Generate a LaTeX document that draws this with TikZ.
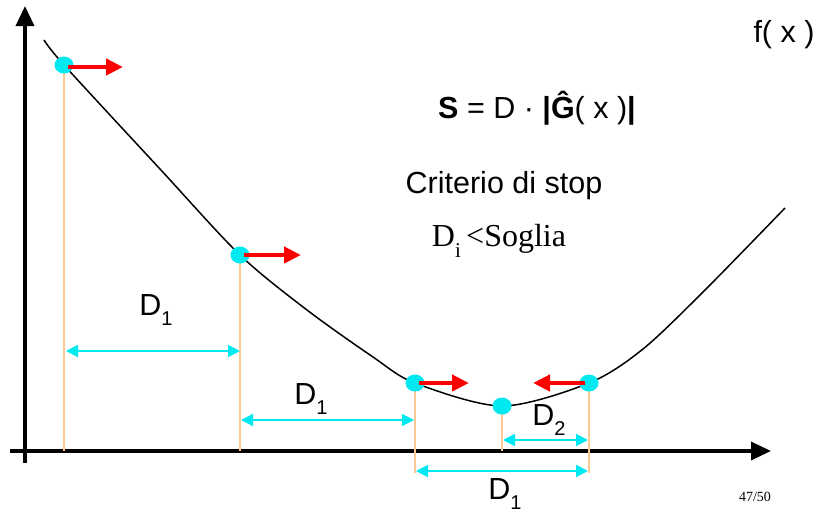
\documentclass[tikz,border=0pt]{standalone}
\usepackage{fontspec}
\setmainfont{Liberation Sans}
\newfontfamily\seriffont{Liberation Serif}
\usetikzlibrary{arrows.meta,shapes.geometric}
\definecolor{dotcyan}{RGB}{0,232,240}
\definecolor{guide}{RGB}{255,200,150}
\definecolor{arrred}{RGB}{255,0,0}
\newcommand{\bigtxt}{\fontsize{30.5}{36}\selectfont}
\newcommand{\Dsub}[1]{D\raisebox{-0.3em}{\fontsize{20}{20}\selectfont #1}}
\tikzset{
  axis/.style={line width=3.5pt,-{Triangle[length=20pt,width=18pt]}},
  curve/.style={line width=1.5pt},
  dot/.style={ellipse,fill=dotcyan,inner sep=0pt,minimum width=19pt,minimum height=17pt},
  guideline/.style={guide,line width=1.5pt},
  redarrow/.style={arrred,line width=4.5pt,-{Triangle[length=17pt,width=16pt]}},
  dimarrow/.style={dotcyan,line width=2pt,{Triangle[length=12pt,width=12pt]}-{Triangle[length=12pt,width=12pt]}},
  lbl/.style={inner sep=0pt,font=\bigtxt}
}
\begin{document}
\begin{tikzpicture}[x=1pt,y=-1pt]
\useasboundingbox (0,0) rectangle (823,512);
% axes
\coordinate (ybot) at (25,463);
\coordinate (ytop) at (25,6);
\coordinate (xl) at (10,451);
\coordinate (xr) at (771,451);
\draw[axis] (ybot) -- (ytop);
\draw[axis] (xl) -- (xr);
% curve
\draw[curve] plot[smooth,tension=0.5] coordinates {(44,40) (64,65) (160,169) (240,255) (307,310) (373,357) (415,383) (502,406) (589,383) (643,349) (705,290) (785,208)};
% guide lines
\coordinate (g1) at (64,451);
\coordinate (g2) at (240,451);
\coordinate (g3) at (415,473);
\coordinate (g4) at (502,451);
\coordinate (g5) at (589,473);
\draw[guideline] (64,65) -- (g1);
\draw[guideline] (240,255) -- (g2);
\draw[guideline] (415,383) -- (g3);
\draw[guideline] (502,406) -- (g4);
\draw[guideline] (589,383) -- (g5);
% dots
\node[dot] (p1) at (64,65) {};
\node[dot] (p2) at (240,255) {};
\node[dot] (p3) at (415,383) {};
\node[dot] (p4) at (502,406) {};
\node[dot] (p5) at (589,383) {};
% red arrows
\coordinate (r1) at (123,67);
\coordinate (r2) at (301,255);
\coordinate (r3) at (469,383);
\coordinate (r5) at (533,383);
\draw[redarrow] (p1.center) ++(4,2) -- (r1);
\draw[redarrow] (p2.center) ++(4,0) -- (r2);
\draw[redarrow] (p3.center) ++(4,0) -- (r3);
\draw[redarrow] (p5.center) ++(-4,0) -- (r5);
% dimension arrows
\coordinate (a1l) at (66,351); \coordinate (a1r) at (240,351);
\coordinate (a2l) at (241,420); \coordinate (a2r) at (414,420);
\coordinate (a3l) at (416,471); \coordinate (a3r) at (588,471);
\coordinate (a4l) at (503,440); \coordinate (a4r) at (588,440);
\draw[dimarrow] (a1l) -- (a1r);
\draw[dimarrow] (a2l) -- (a2r);
\draw[dimarrow] (a3l) -- (a3r);
\draw[dimarrow] (a4l) -- (a4r);
% labels
\node[lbl] (d1a) at (156,310) {\Dsub{1}};
\node[lbl] (d1b) at (311,399) {\Dsub{1}};
\node[lbl] (d1c) at (505,494) {\Dsub{1}};
\node[lbl] (d2) at (549,420) {\Dsub{2}};
\node[lbl] (fx) at (784,35) {f( x )};
\node[lbl] (form) at (537,108) {\textbf{S} = D · \textbf{|\^{G}}( x )\textbf{|}};
\node[lbl] (crit) at (504,186) {Criterio di stop};
\node[inner sep=0pt,font=\seriffont\fontsize{32}{36}\selectfont] (soglia) at (499,241) {D\raisebox{-0.35em}{\fontsize{21}{21}\selectfont i}\,<Soglia};
\node[inner sep=0pt,font=\seriffont\fontsize{14}{16}\selectfont] (page) at (755,497) {47/50};
\end{tikzpicture}
\end{document}
